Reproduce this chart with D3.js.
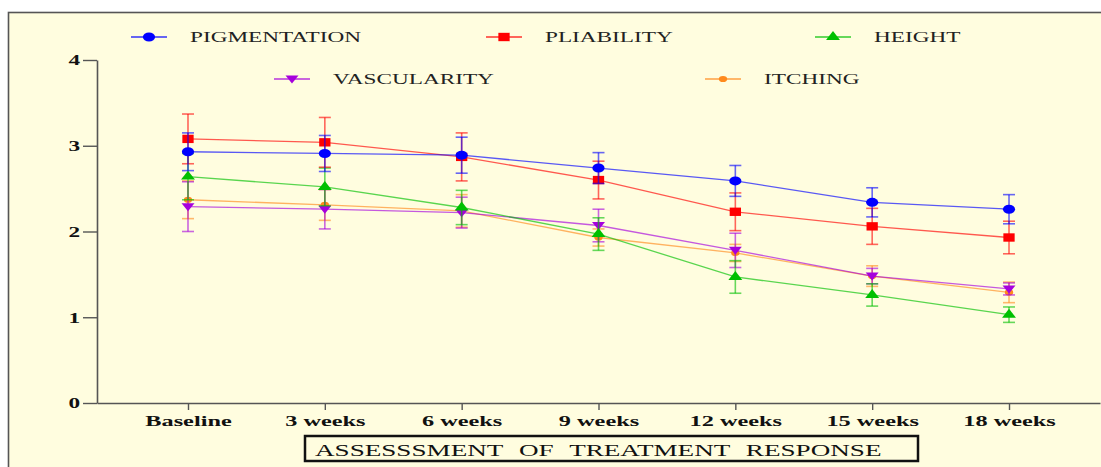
<!DOCTYPE html>
<html>
<head>
<meta charset="utf-8">
<script src="https://cdn.jsdelivr.net/npm/d3@7"></script>
<style>
  html, body { margin: 0; padding: 0; background: #fff; }
  svg { display: block; }
  text { font-family: "Liberation Serif", "Times New Roman", serif; }
</style>
</head>
<body>
<div id="chart"></div>
<script>
// categories on the x axis
const categories = ["Baseline", "3 weeks", "6 weeks", "9 weeks", "12 weeks", "15 weeks", "18 weeks"];

// mean scores and error (+/-) per series
const pigmentation = [2.93, 2.91, 2.89, 2.74, 2.59, 2.34, 2.26];
const pigmentationErr = [0.22, 0.21, 0.21, 0.18, 0.18, 0.17, 0.17];
const pliability = [3.08, 3.04, 2.87, 2.60, 2.23, 2.06, 1.93];
const pliabilityErr = [0.29, 0.29, 0.28, 0.22, 0.22, 0.21, 0.19];
const heightScore = [2.64, 2.52, 2.28, 1.97, 1.47, 1.26, 1.03];
const heightErr = [0.27, 0.22, 0.20, 0.19, 0.19, 0.13, 0.09];
const vascularity = [2.29, 2.26, 2.22, 2.07, 1.78, 1.48, 1.33];
const vascularityErr = [0.29, 0.23, 0.18, 0.19, 0.20, 0.09, 0.07];
const itching = [2.37, 2.31, 2.24, 1.93, 1.75, 1.48, 1.29];
const itchingErr = [0.22, 0.18, 0.19, 0.10, 0.10, 0.12, 0.12];

const yTicks = [0, 1, 2, 3, 4];
const titleText = "ASSESSSMENT OF TREATMENT RESPONSE";

const series = [
  { name: "ITCHING", values: itching, err: itchingErr, color: "#ff8a1c", symbol: "diamondSmall" },
  { name: "VASCULARITY", values: vascularity, err: vascularityErr, color: "#a600dd", symbol: "triDown" },
  { name: "HEIGHT", values: heightScore, err: heightErr, color: "#00c000", symbol: "triUp" },
  { name: "PLIABILITY", values: pliability, err: pliabilityErr, color: "#ff0000", symbol: "square" },
  { name: "PIGMENTATION", values: pigmentation, err: pigmentationErr, color: "#0000ff", symbol: "circle" }
];

// legend placement (name -> position)
const legendPos = {
  PIGMENTATION: [149, 37], PLIABILITY: [504, 37], HEIGHT: [833, 37],
  VASCULARITY: [292, 79], ITCHING: [723, 79]
};

const W = 1101, H = 467;
const SX = 1.55; // the original picture is stretched horizontally

const svg = d3.select("#chart").append("svg").attr("width", W).attr("height", H);

// background panel
svg.append("rect").attr("x", 8.5).attr("y", 12.5).attr("width", W).attr("height", H)
  .attr("fill", "#fffddf").attr("stroke", "#555").attr("stroke-width", 1.6);

const x = d3.scalePoint().domain(categories).range([97, 1100]).padding(0.665);
const y = d3.scaleLinear().domain([0, 4]).range([403, 60]);

function stretch(sel, k = SX) {
  sel.each(function () {
    const t = d3.select(this);
    const tx = +t.attr("x") || 0;
    t.attr("x", 0).attr("transform", `translate(${tx},0) scale(${k},1)`);
  });
}

// y axis
const yAxis = svg.append("g").attr("transform", "translate(97,0)")
  .call(d3.axisLeft(y).tickValues(yTicks).tickFormat(d3.format("d")).tickSize(14).tickPadding(3).tickSizeOuter(0));
yAxis.select(".domain").attr("stroke", "#555").attr("stroke-width", 1.6);
yAxis.selectAll(".tick line").attr("stroke", "#555").attr("stroke-width", 1.4);
yAxis.selectAll(".tick text").attr("fill", "#111").style("font-size", "15px").style("font-weight", "bold")
  .style("font-family", "'Liberation Serif', serif").call(stretch);

// x axis
const xAxis = svg.append("g").attr("transform", "translate(0,403)")
  .call(d3.axisBottom(x).tickSize(7).tickPadding(5).tickSizeOuter(0));
xAxis.select(".domain").attr("stroke", "#555").attr("stroke-width", 1.6);
xAxis.selectAll(".tick line").attr("stroke", "#555").attr("stroke-width", 1.4);
xAxis.selectAll(".tick text").attr("fill", "#111").style("font-size", "15px").style("font-weight", "bold")
  .style("font-family", "'Liberation Serif', serif").call(stretch, 1.62);

function symbolPath(kind) {
  switch (kind) {
    case "circle": return d3.symbol(d3.symbolCircle, 64)();
    case "square": return d3.symbol(d3.symbolSquare, 70)();
    case "triUp": return d3.symbol(d3.symbolTriangle, 46)();
    case "triDown": return "M-4.8,-3.5L4.8,-3.5L0,4.5Z";
    default: return d3.symbol(d3.symbolCircle, 30)();
  }
}

const line = d3.line().x((d, i) => x(categories[i])).y(d => y(d));

series.forEach(s => {
  const g = svg.append("g");
  g.append("path").datum(s.values).attr("d", line)
    .attr("fill", "none").attr("stroke", s.color).attr("stroke-width", 1.3).attr("stroke-opacity", 0.65);

  const eb = g.selectAll(".err").data(s.values).join("g").attr("class", "err")
    .attr("stroke", s.color).attr("stroke-opacity", 0.6).attr("stroke-width", 1.6);
  eb.append("line")
    .attr("x1", (d, i) => x(categories[i])).attr("x2", (d, i) => x(categories[i]))
    .attr("y1", (d, i) => y(d + s.err[i])).attr("y2", (d, i) => y(d - s.err[i]));
  [1, -1].forEach(sign => {
    eb.append("line")
      .attr("x1", (d, i) => x(categories[i]) - 6).attr("x2", (d, i) => x(categories[i]) + 6)
      .attr("y1", (d, i) => y(d + sign * s.err[i])).attr("y2", (d, i) => y(d + sign * s.err[i]));
  });

  g.selectAll(".pt").data(s.values).join("path").attr("class", "pt")
    .attr("d", symbolPath(s.symbol))
    .attr("transform", (d, i) => `translate(${x(categories[i])},${y(d)}) scale(1.35,1)`)
    .attr("fill", s.color);
});

// legend
series.forEach(s => {
  const [lx, ly] = legendPos[s.name];
  const g = svg.append("g").attr("transform", `translate(${lx},${ly})`);
  g.append("line").attr("x1", -18).attr("x2", 18).attr("y1", 0).attr("y2", 0)
    .attr("stroke", s.color).attr("stroke-width", 1.6).attr("stroke-opacity", 0.8);
  g.append("path").attr("d", symbolPath(s.symbol)).attr("transform", "scale(1.35,1)").attr("fill", s.color);
  g.append("text").attr("x", 41).attr("y", 5).attr("fill", "#222")
    .style("font-size", "15px").text(s.name).call(stretch);
});

// title box
svg.append("rect").attr("x", 305).attr("y", 436).attr("width", 613).attr("height", 25)
  .attr("fill", "none").attr("stroke", "#111").attr("stroke-width", 2.5);
svg.append("text").attr("x", 315).attr("y", 456).attr("fill", "#111")
  .style("font-size", "17.5px").style("word-spacing", "6px").text(titleText).call(stretch);
</script>
</body>
</html>
